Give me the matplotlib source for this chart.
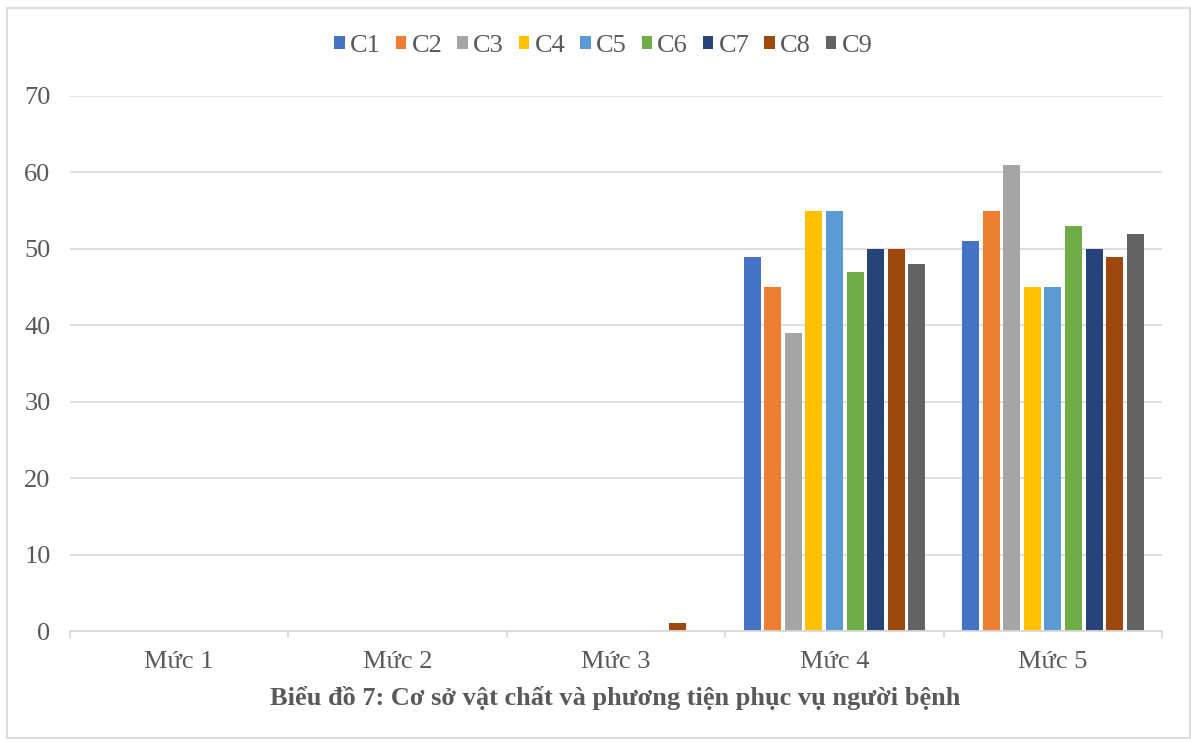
import matplotlib
matplotlib.use("Agg")
import matplotlib.pyplot as plt
import numpy as np
from matplotlib.patches import Rectangle

categories = ["Mức 1", "Mức 2", "Mức 3", "Mức 4", "Mức 5"]
series_names = ["C1", "C2", "C3", "C4", "C5", "C6", "C7", "C8", "C9"]
C1 = [0, 0, 0, 49, 51]
C2 = [0, 0, 0, 45, 55]
C3 = [0, 0, 0, 39, 61]
C4 = [0, 0, 0, 55, 45]
C5 = [0, 0, 0, 55, 45]
C6 = [0, 0, 0, 47, 53]
C7 = [0, 0, 0, 50, 50]
C8 = [0, 0, 1, 50, 49]
C9 = [0, 0, 0, 48, 52]
series_values = [C1, C2, C3, C4, C5, C6, C7, C8, C9]
colors = ["#4472C4", "#ED7D31", "#A5A5A5", "#FFC000", "#5B9BD5",
          "#70AD47", "#264478", "#9E480E", "#636363"]
title = "Biểu đồ 7: Cơ sở vật chất và phương tiện phục vụ người bệnh"

plt.rcParams['font.family'] = ['Liberation Serif', 'DejaVu Serif']
text_color = "#595959"

fig = plt.figure(figsize=(11.91, 7.42), dpi=100)
fig.patches.append(Rectangle((7/1191, 1-738/742), (1190-7)/1191, (738-8)/742,
                             transform=fig.transFigure, fill=False,
                             edgecolor="#D9D9D9", linewidth=1.3))
ax = fig.add_axes([70/1191, 1-631/742, (1162-70)/1191, (631-96)/742])

x = np.arange(len(categories))
slot = 20.6/218.4
width = 17.0/218.4
for i, (name, vals) in enumerate(zip(series_names, series_values)):
    ax.bar(x + (i-4)*slot, vals, width=width, color=colors[i], label=name, zorder=3)

ax.set_xlim(-0.5, len(categories)-0.5)
ax.set_ylim(0, 70)
ax.set_yticks(range(0, 71, 10))
ax.yaxis.grid(True, color="#D9D9D9", linewidth=1.2, zorder=0)
for s in ["top", "right", "left"]:
    ax.spines[s].set_visible(False)
ax.spines["bottom"].set_color("#D9D9D9")
ax.spines["bottom"].set_linewidth(1.3)
ax.spines["bottom"].set_zorder(4)

ax.set_xticks(x)
ax.set_xticklabels(categories)
ax.set_xticks(np.arange(-0.5, len(categories)), minor=True)
ax.tick_params(axis="x", which="major", length=0, pad=14.5, labelsize=19, labelcolor=text_color)
ax.tick_params(axis="x", which="minor", length=5, width=1.3, color="#D9D9D9")
ax.tick_params(axis="y", length=0, pad=14, labelsize=19, labelcolor=text_color)

leg = fig.legend(loc="center", bbox_to_anchor=(603.5/1191, 1-46/742), ncol=9, frameon=False,
                 fontsize=19, handlelength=0.4, handleheight=0.4, handletextpad=0.2,
                 columnspacing=0.56, labelcolor=text_color)

fig.text(615.5/1191, 1-698/742, title, ha="center", va="center", fontsize=19,
         fontweight="bold", color=text_color)

fig.savefig("out.png", dpi=100)
